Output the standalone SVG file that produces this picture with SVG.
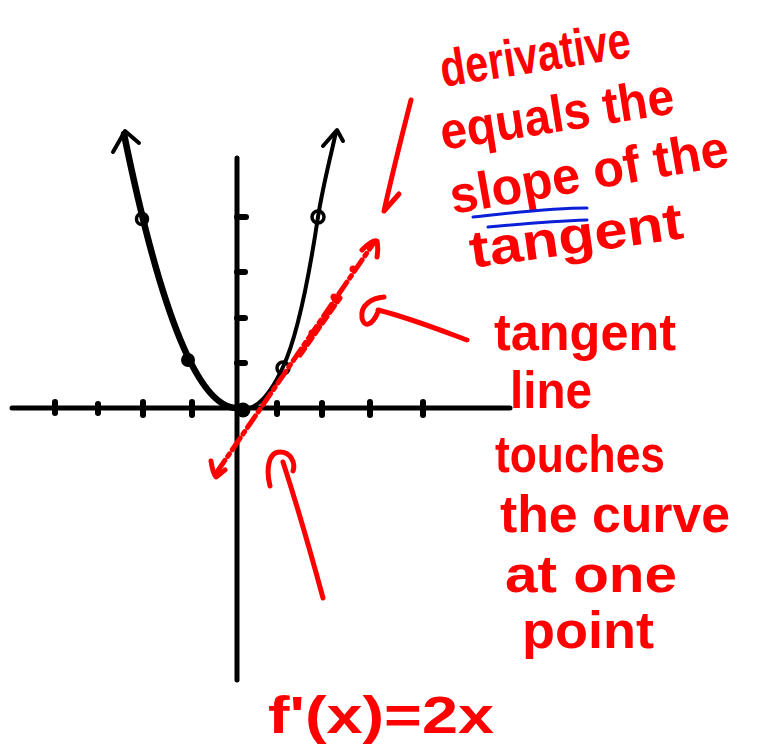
<svg xmlns="http://www.w3.org/2000/svg" width="757" height="749" viewBox="0 0 757 749">
<style>
.ax{stroke:#000;stroke-width:5;stroke-linecap:round;fill:none}
.tk{stroke:#000;stroke-width:6;stroke-linecap:round}
.blk{stroke:#000;fill:none;stroke-linecap:round;stroke-linejoin:round}
.red{stroke:#ff0000;fill:none;stroke-width:5;stroke-linecap:round;stroke-linejoin:round}
.rt{font-family:"Liberation Sans",Arial,sans-serif;font-weight:bold;fill:#ff0000;font-size:52px}
</style>
<rect width="757" height="749" fill="#fff"/>
<g id="axes">
<line class="ax" x1="12" y1="408" x2="510" y2="408"/>
<line class="ax" x1="237" y1="158" x2="237" y2="680"/>
<g class="tk">
<line x1="55" y1="402" x2="55" y2="413"/><line x1="98" y1="404" x2="98" y2="413"/>
<line x1="143" y1="402" x2="143" y2="415"/><line x1="192" y1="402" x2="192" y2="415"/>
<line x1="277" y1="403" x2="277" y2="414"/><line x1="322" y1="403" x2="322" y2="415"/>
<line x1="370" y1="402" x2="370" y2="415"/><line x1="423" y1="402" x2="423" y2="415"/>
<line x1="237" y1="217" x2="246" y2="217"/><line x1="237" y1="272" x2="245" y2="272"/>
<line x1="237" y1="318" x2="245" y2="318"/><line x1="237" y1="363" x2="245" y2="363"/>
</g>
</g>
<g id="parabola">
<path class="blk" stroke-width="6.5" d="M237,408 Q180,408 124,134"/>
<path class="blk" stroke-width="4" d="M237,408 C255,414 270,395 283,367 C298,335 310,270 318,217 C323,185 331,155 336,132"/>
<path class="blk" stroke-width="4" d="M113,152 L125,131 L139,143"/>
<path class="blk" stroke-width="4" d="M323,146 L337,130 L343,141"/>
</g>
<g id="points">
<circle cx="142" cy="219" r="5.5" fill="none" stroke="#000" stroke-width="3.5"/>
<circle cx="188" cy="360" r="7" fill="#000"/>
<circle cx="243" cy="410" r="7.5" fill="#000"/>
<circle cx="283" cy="368" r="6" fill="none" stroke="#000" stroke-width="3.5"/>
<circle cx="318" cy="217" r="6" fill="none" stroke="#000" stroke-width="3.5"/>
</g>
<g id="tangent-line">
<path class="red" stroke-width="3.5" stroke-dasharray="14 5 3 5" d="M217,472 L373,244"/>
<path class="red" stroke-width="3" stroke-dasharray="8 5" d="M300,355 L340,298"/>
<circle cx="353" cy="269" r="3.5" fill="#ff0000"/>
<circle cx="334" cy="297" r="3.5" fill="#ff0000"/>
<circle cx="312" cy="333" r="3.5" fill="#ff0000"/>
<path class="red" stroke-width="3" d="M362,250 C368,244 374,240 377,241 C378,246 378,251 377,257"/>
<path class="red" stroke-width="3" d="M211,461 C212,468 213,474 216,477 C219,475 222,472 225,470"/>
</g>
<g id="connectors">
<path class="red" d="M411,100 C402,135 392,175 384,211 L399,194"/>
<path class="red" stroke-width="6" d="M467,340 C440,330 410,318 378,310 M384,297 C372,298 360,305 362,318 C364,328 372,326 378,312"/>
<path class="red" stroke-width="6.5" d="M323,598 C310,550 296,502 283,462 M270,486 C266,470 268,452 280,452 C290,452 296,462 293,471"/>
</g>
<g id="note-top">
<text class="rt" x="443" y="87" textLength="192" lengthAdjust="spacingAndGlyphs" transform="rotate(-9 443 87)">derivative</text>
<text class="rt" x="443" y="150" textLength="236" lengthAdjust="spacingAndGlyphs" transform="rotate(-9 443 150)">equals the</text>
<text class="rt" x="453" y="214" textLength="282" lengthAdjust="spacingAndGlyphs" transform="rotate(-10 453 214)">slope of the</text>
<text class="rt" x="472" y="268" textLength="215" lengthAdjust="spacingAndGlyphs" transform="rotate(-8 472 268)">tangent</text>
<path fill="none" stroke="#0a1fd8" stroke-width="3" stroke-linecap="round" d="M473,217 C510,213 550,208 587,208 M488,227 C520,224 555,221 587,220"/>
</g>
<g id="note-right">
<text class="rt" x="494" y="350" textLength="182" lengthAdjust="spacingAndGlyphs">tangent</text>
<text class="rt" x="510" y="408" textLength="82" lengthAdjust="spacingAndGlyphs">line</text>
<text class="rt" x="495" y="472" textLength="170" lengthAdjust="spacingAndGlyphs">touches</text>
<text class="rt" x="500" y="532" textLength="230" lengthAdjust="spacingAndGlyphs">the curve</text>
<text class="rt" x="505" y="592" textLength="172" lengthAdjust="spacingAndGlyphs">at one</text>
<text class="rt" x="522" y="648" textLength="132" lengthAdjust="spacingAndGlyphs">point</text>
</g>
<g id="formula">
<text class="rt" x="268" y="733" font-size="58" textLength="226" lengthAdjust="spacingAndGlyphs">f'(x)=2x</text>
</g>
</svg>
